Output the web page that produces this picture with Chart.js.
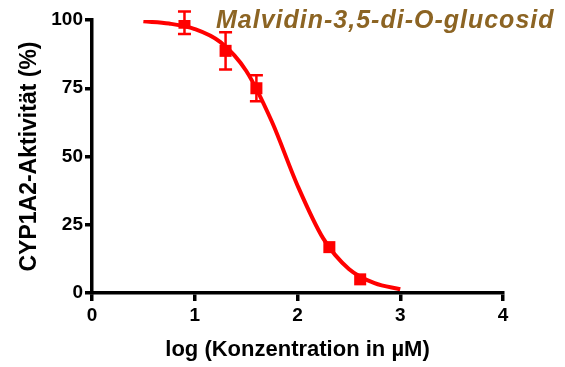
<!DOCTYPE html>
<html>
<head>
<meta charset="utf-8">
<script src="https://cdn.jsdelivr.net/npm/chart.js@4"></script>
<style>
  html, body { margin: 0; padding: 0; background: #fff; }
  #wrap { width: 565px; height: 367px; }
</style>
</head>
<body>
<div id="wrap"><canvas id="chart" width="565" height="367"></canvas></div>
<script>
// measured points (log concentration vs activity)
const logConc = [0.90, 1.30, 1.60, 2.31, 2.61];
const activity = [99.0, 88.7, 75.0, 16.8, 5.0];
const sem = [4.1, 6.8, 4.8, 0, 0];

// fitted curve
const curveX = [0.5, 0.75, 1.0, 1.25, 1.5, 1.75, 2.0, 2.25, 2.5, 2.75, 3.0];
const curveY = [99.5, 98.7, 96.7, 91.9, 81.4, 62.8, 39.4, 20.0, 8.8, 3.6, 1.4];

const xTicks = [0, 1, 2, 3, 4];
const yTicks = [0, 25, 50, 75, 100];

const compound = "Malvidin-3,5-di-O-glucosid";
const red = "#ff0000";
const fontFamily = "'Liberation Sans', Arial, sans-serif";

const errorBars = {
  id: "errorBars",
  afterDatasetsDraw(chart) {
    const { ctx, scales: { x, y } } = chart;
    ctx.save();
    ctx.strokeStyle = red;
    ctx.lineWidth = 2.5;
    logConc.forEach((v, i) => {
      if (!sem[i]) return; // bar hidden behind the marker
      const px = x.getPixelForValue(v);
      const top = y.getPixelForValue(activity[i] + sem[i]);
      const bot = y.getPixelForValue(activity[i] - sem[i]);
      ctx.beginPath();
      ctx.moveTo(px, top);
      ctx.lineTo(px, bot);
      ctx.moveTo(px - 6.5, top);
      ctx.lineTo(px + 6.5, top);
      ctx.moveTo(px - 6.5, bot);
      ctx.lineTo(px + 6.5, bot);
      ctx.stroke();
    });
    ctx.restore();
  }
};

const label = {
  id: "label",
  afterDraw(chart) {
    const { ctx } = chart;
    ctx.save();
    ctx.font = "italic bold 25px " + fontFamily;
    ctx.fillStyle = "#8c6423";
    ctx.letterSpacing = "1px";
    ctx.textAlign = "left";
    ctx.textBaseline = "alphabetic";
    ctx.fillText(compound, 216, 28);
    ctx.restore();
  }
};

new Chart(document.getElementById("chart"), {
  data: {
    datasets: [{
      type: "scatter",
      data: logConc.map((v, i) => ({ x: v, y: activity[i] })),
      pointStyle: "rect",
      pointRadius: 8.5,
      backgroundColor: red,
      borderColor: red,
      borderWidth: 0,
      order: 0
    }, {
      type: "line",
      data: curveX.map((v, i) => ({ x: v, y: curveY[i] })),
      borderColor: red,
      borderWidth: 4,
      pointRadius: 0,
      cubicInterpolationMode: "monotone",
      fill: false,
      order: 1
    }]
  },
  options: {
    responsive: false,
    animation: false,
    layout: { padding: { top: 20, right: 62, left: 0, bottom: 0 } },
    plugins: {
      legend: { display: false },
      tooltip: { enabled: false }
    },
    scales: {
      x: {
        type: "linear",
        min: 0,
        max: 4,
        afterFit: (s) => { s.height = 74; },
        afterBuildTicks: (s) => { s.ticks = xTicks.map((v) => ({ value: v })); },
        border: { display: true, color: "#000", width: 3.5 },
        grid: { display: true, drawOnChartArea: false, drawTicks: true, tickLength: 8, color: "#000", lineWidth: 3.5 },
        ticks: { color: "#000", padding: 3, font: { family: fontFamily, size: 19, weight: "bold" } },
        title: {
          display: true,
          text: "log (Konzentration in µM)",
          color: "#000",
          padding: 4,
          font: { family: fontFamily, size: 22, weight: "bold" }
        }
      },
      y: {
        type: "linear",
        min: 0,
        max: 100,
        afterFit: (s) => { s.width = 92; },
        afterBuildTicks: (s) => { s.ticks = yTicks.map((v) => ({ value: v })); },
        border: { display: true, color: "#000", width: 3.5 },
        grid: { display: true, drawOnChartArea: false, drawTicks: true, tickLength: 7, color: "#000", lineWidth: 3.5 },
        ticks: { color: "#000", padding: 2, font: { family: fontFamily, size: 19, weight: "bold" } },
        title: {
          display: true,
          text: "CYP1A2-Aktivität (%)",
          color: "#000",
          padding: 16,
          font: { family: fontFamily, size: 23, weight: "bold" }
        }
      }
    }
  },
  plugins: [errorBars, label]
});
</script>
</body>
</html>
